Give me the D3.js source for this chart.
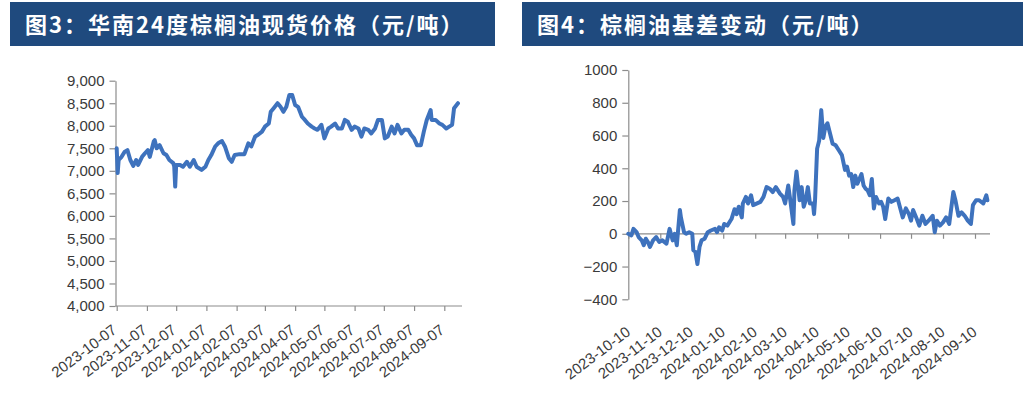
<!DOCTYPE html>
<html><head><meta charset="utf-8">
<script src="https://cdn.jsdelivr.net/npm/d3@7"></script>
<style>
html,body{margin:0;padding:0;background:#fff;}
svg{display:block;}
</style></head>
<body>
<svg id="c" width="1030" height="407"></svg>
<script>
// ---------- Data ----------
const titleLeft = "图3：华南24度棕榈油现货价格（元/吨）";
const titleRight = "图4：棕榈油基差变动（元/吨）";

const priceTicksX = ["2023-10-07","2023-11-07","2023-12-07","2024-01-07","2024-02-07","2024-03-07","2024-04-07","2024-05-07","2024-06-07","2024-07-07","2024-08-07","2024-09-07"];
const priceTicksY = [4000,4500,5000,5500,6000,6500,7000,7500,8000,8500,9000];
const priceDates = ["2023-10-07","2023-10-08","2023-10-09","2023-10-12","2023-10-15","2023-10-18","2023-10-21","2023-10-24","2023-10-27","2023-10-29",
"2023-11-02","2023-11-05","2023-11-08","2023-11-10","2023-11-14","2023-11-15","2023-11-17","2023-11-20","2023-11-24","2023-11-27",
"2023-11-30","2023-12-04","2023-12-05","2023-12-06","2023-12-07","2023-12-11","2023-12-14","2023-12-18","2023-12-21","2023-12-25",
"2023-12-28","2024-01-02","2024-01-06","2024-01-09","2024-01-12","2024-01-16","2024-01-19","2024-01-23","2024-01-26","2024-01-30",
"2024-02-02","2024-02-05","2024-02-10","2024-02-15","2024-02-19","2024-02-22","2024-02-26","2024-02-29","2024-03-04","2024-03-07",
"2024-03-11","2024-03-13","2024-03-16","2024-03-20","2024-03-23","2024-03-26","2024-03-29","2024-04-01","2024-04-04","2024-04-07",
"2024-04-10","2024-04-14","2024-04-17","2024-04-20","2024-04-24","2024-04-27","2024-04-30","2024-05-04","2024-05-07","2024-05-11",
"2024-05-14","2024-05-18","2024-05-21","2024-05-25","2024-05-28","2024-05-31","2024-06-04","2024-06-07","2024-06-11","2024-06-14",
"2024-06-17","2024-06-21","2024-06-24","2024-06-28","2024-07-01","2024-07-05","2024-07-08","2024-07-11","2024-07-15","2024-07-18",
"2024-07-21","2024-07-25","2024-07-28","2024-08-01","2024-08-04","2024-08-07","2024-08-10","2024-08-14","2024-08-17","2024-08-20",
"2024-08-24","2024-08-25","2024-08-29","2024-09-02","2024-09-05","2024-09-09","2024-09-12","2024-09-15","2024-09-17","2024-09-21"];
const priceValues = [7500,6950,7240,7310,7420,7460,7240,7110,7240,7130,
7310,7390,7460,7310,7650,7680,7500,7570,7390,7350,
7240,7170,7100,6650,7130,7130,7090,7200,7090,7240,
7090,7020,7090,7240,7350,7540,7610,7660,7540,7280,
7200,7350,7370,7370,7610,7540,7760,7800,7870,7980,
8050,8310,8390,8500,8420,8310,8420,8680,8680,8460,
8420,8200,8130,8050,7980,7940,7910,8020,7720,7940,
7980,8050,7940,7940,8130,8090,7910,7980,7940,7760,
7940,7910,7830,7940,8130,8130,7720,7760,7980,7830,
8020,7830,7910,7910,7800,7720,7570,7570,7870,8130,
8350,8130,8130,8050,8020,7940,7980,8020,8390,8500];

const basisTicksX = ["2023-10-10","2023-11-10","2023-12-10","2024-01-10","2024-02-10","2024-03-10","2024-04-10","2024-05-10","2024-06-10","2024-07-10","2024-08-10","2024-09-10"];
const basisTicksY = [-400,-200,0,200,400,600,800,1000];
const basisDates = ["2023-10-10","2023-10-13","2023-10-15","2023-10-18","2023-10-20","2023-10-23","2023-10-25","2023-10-27","2023-10-29","2023-10-31",
"2023-11-03","2023-11-06","2023-11-09","2023-11-12","2023-11-16","2023-11-19","2023-11-22","2023-11-24","2023-11-26","2023-11-29",
"2023-11-30","2023-12-03","2023-12-05","2023-12-08","2023-12-11","2023-12-12","2023-12-14","2023-12-16","2023-12-18","2023-12-20",
"2023-12-23","2023-12-26","2023-12-29","2024-01-02","2024-01-04","2024-01-06","2024-01-09","2024-01-11","2024-01-14","2024-01-18",
"2024-01-21","2024-01-23","2024-01-25","2024-01-28","2024-01-29","2024-02-01","2024-02-03","2024-02-06","2024-02-08","2024-02-15",
"2024-02-18","2024-02-21","2024-02-24","2024-02-27","2024-03-01","2024-03-05","2024-03-08","2024-03-10","2024-03-13","2024-03-15",
"2024-03-18","2024-03-19","2024-03-21","2024-03-24","2024-03-26","2024-03-28","2024-03-30","2024-04-01","2024-04-03","2024-04-06",
"2024-04-07","2024-04-08","2024-04-10","2024-04-12","2024-04-14","2024-04-16","2024-04-18","2024-04-20","2024-04-23","2024-04-25",
"2024-04-28","2024-05-01","2024-05-04","2024-05-07","2024-05-09","2024-05-11","2024-05-13","2024-05-15","2024-05-17","2024-05-19",
"2024-05-23","2024-05-25","2024-05-27","2024-05-29","2024-05-31","2024-06-02","2024-06-04","2024-06-06","2024-06-09","2024-06-11",
"2024-06-13","2024-06-15","2024-06-18","2024-06-21","2024-06-24","2024-06-27","2024-06-30","2024-07-02","2024-07-05","2024-07-08",
"2024-07-10","2024-07-12","2024-07-15","2024-07-18","2024-07-21","2024-07-24","2024-07-27","2024-07-31","2024-08-02","2024-08-04",
"2024-08-07","2024-08-10","2024-08-13","2024-08-16","2024-08-20","2024-08-22","2024-08-25","2024-08-28","2024-08-31","2024-09-03",
"2024-09-06","2024-09-08","2024-09-11","2024-09-14","2024-09-18","2024-09-21","2024-09-22"];
const basisValues = [0,-10,30,10,-20,-40,-70,-30,-50,-80,
-40,-20,-50,-40,-60,30,-40,0,-70,145,
100,10,0,10,0,-100,-110,-185,-80,-40,
-30,10,20,30,10,40,20,60,50,90,
150,120,165,100,185,225,185,235,175,195,
225,285,275,255,285,245,225,185,295,205,
60,265,380,205,285,165,205,285,185,185,
120,205,520,570,755,585,655,675,600,550,
540,510,480,390,410,355,365,285,355,305,
365,295,275,265,235,335,155,225,185,195,
165,90,215,195,205,215,145,100,155,120,
80,145,100,50,110,60,80,110,10,80,
50,70,100,60,255,205,110,130,110,80,
60,175,205,205,185,235,205];

// ---------- Drawing ----------
const svg = d3.select("#c");
const parse = d3.timeParse("%Y-%m-%d");
const NAVY = "#1F4A7E";
const LINE = "#3E72BD";
const AXIS = "#8C8C8C";
const TXT = "#3A3A3A";
const FONT = "Arial, 'Liberation Sans', sans-serif";
const CJK = "'Noto Sans CJK SC', sans-serif";

function title(x, w, text) {
  svg.append("rect").attr("x", x).attr("y", 2).attr("width", w).attr("height", 44).attr("fill", NAVY);
  svg.append("text").attr("x", x + 15).attr("y", 33)
    .attr("font-family", CJK).attr("font-weight", "bold").attr("font-size", 22)
    .attr("letter-spacing", 2).attr("fill", "#fff").text(text);
}
title(10, 485, titleLeft);
title(522, 501, titleRight);

function styleAxis(g) {
  g.selectAll("path").attr("stroke", AXIS).attr("stroke-width", 1.2);
  g.selectAll("line").attr("stroke", AXIS).attr("stroke-width", 1.2);
  g.selectAll("text").attr("fill", TXT).attr("font-family", FONT).attr("font-size", 15);
}

// ---- Left chart ----
{
  const x = d3.scaleTime().domain([parse(priceTicksX[0]), parse(priceTicksX[priceTicksX.length - 1])]).range([116.7, 444.3]);
  const xEnd = 462;
  const y = d3.scaleLinear().domain([4000, 9000]).range([306, 80.7]);
  const x0 = 115.5;

  const gy = svg.append("g").attr("transform", `translate(${x0},0)`)
    .call(d3.axisLeft(y).tickValues(priceTicksY).tickFormat(d3.format(",")).tickSize(6).tickPadding(5).tickSizeOuter(0));
  styleAxis(gy);

  const gx = svg.append("g").attr("transform", `translate(0,${y(4000)})`)
    .call(d3.axisBottom(x).tickValues(priceTicksX.map(parse)).tickFormat("").tickSize(5).tickSizeOuter(0));
  gx.select("path").attr("d", `M${x0},0H${xEnd}`);
  styleAxis(gx);

  svg.append("g").selectAll("text").data(priceTicksX).join("text")
    .attr("transform", d => `translate(${x(parse(d)) + 1},332) rotate(-37)`)
    .attr("text-anchor", "end").attr("fill", TXT).attr("font-family", FONT).attr("font-size", 15)
    .text(d => d);

  const pts = priceDates.map((d, i) => [parse(d), priceValues[i]]);
  svg.append("path").datum(pts)
    .attr("fill", "none").attr("stroke", LINE).attr("stroke-width", 4)
    .attr("stroke-linejoin", "round").attr("stroke-linecap", "round")
    .attr("d", d3.line().x(d => x(d[0])).y(d => y(d[1])));
}

// ---- Right chart ----
{
  const x = d3.scaleTime().domain([parse(basisTicksX[0]), parse(basisTicksX[basisTicksX.length - 1])]).range([628.3, 975]);
  const xEnd = 990;
  const y = d3.scaleLinear().domain([-400, 1000]).range([299.3, 70]);
  const x0 = 628.3;

  const gy = svg.append("g").attr("transform", `translate(${x0},0)`)
    .call(d3.axisLeft(y).tickValues(basisTicksY).tickFormat(d3.format("d")).tickSize(6).tickPadding(5).tickSizeOuter(0));
  styleAxis(gy);

  const gx = svg.append("g").attr("transform", `translate(0,${y(0)})`)
    .call(d3.axisBottom(x).tickValues(basisTicksX.map(parse)).tickFormat("").tickSize(5).tickSizeOuter(0));
  gx.select("path").attr("d", `M${x0},0H${xEnd}`);
  styleAxis(gx);

  svg.append("g").selectAll("text").data(basisTicksX).join("text")
    .attr("transform", d => `translate(${x(parse(d)) + 3},334) rotate(-37)`)
    .attr("text-anchor", "end").attr("fill", TXT).attr("font-family", FONT).attr("font-size", 15)
    .text(d => d);

  const pts = basisDates.map((d, i) => [parse(d), basisValues[i]]);
  svg.append("path").datum(pts)
    .attr("fill", "none").attr("stroke", LINE).attr("stroke-width", 4)
    .attr("stroke-linejoin", "round").attr("stroke-linecap", "round")
    .attr("d", d3.line().x(d => x(d[0])).y(d => y(d[1])));
}
</script>
</body></html>
